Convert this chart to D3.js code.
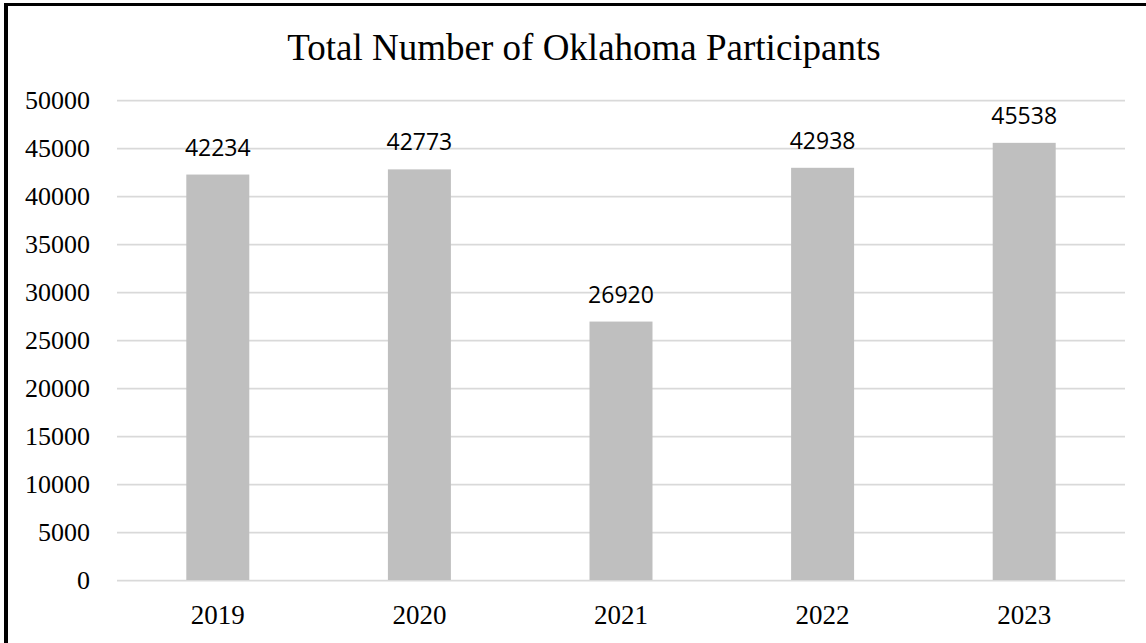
<!DOCTYPE html>
<html>
<head>
<meta charset="utf-8">
<script src="https://cdn.jsdelivr.net/npm/d3@7"></script>
<style>
  body { margin: 0; background: #fff; }
</style>
</head>
<body>
<script>
// data
const years = ["2019", "2020", "2021", "2022", "2023"];
const participants = [42234, 42773, 26920, 42938, 45538];
const yTicks = [0, 5000, 10000, 15000, 20000, 25000, 30000, 35000, 40000, 45000, 50000];

//SVG size
const w = 1146;
const h = 643;

//plot area
const plotLeft = 117;
const plotRight = 1125;
const plotTop = 100;
const plotBottom = 580;

const svg = d3.select("body").append("svg").attr("width", w).attr("height", h);

svg.append("rect").attr("width", w).attr("height", h).attr("fill", "#fff");

// frame (only top + left visible in the source)
svg.append("line").attr("x1", 4).attr("x2", w).attr("y1", 4.5).attr("y2", 4.5)
  .attr("stroke", "#000").attr("stroke-width", 3);
svg.append("line").attr("x1", 6).attr("x2", 6).attr("y1", 3).attr("y2", h)
  .attr("stroke", "#000").attr("stroke-width", 4);

// title
svg.append("text")
  .attr("x", (plotLeft + plotRight) / 2 - 37)
  .attr("y", 60)
  .attr("text-anchor", "middle")
  .attr("font-family", "'Liberation Serif', 'Times New Roman', serif")
  .attr("font-size", 37)
  .attr("fill", "#000")
  .text("Total Number of Oklahoma Participants");

const x = d3.scaleBand().domain(years).range([plotLeft, plotRight])
  .paddingInner(0.6875).paddingOuter(0.34375);
const y = d3.scaleLinear().domain([0, 50000]).range([plotBottom, plotTop]);

// gridlines + y labels
const yAxis = d3.axisLeft(y).tickValues(yTicks).tickFormat(d3.format("d"))
  .tickSize(-(plotRight - plotLeft)).tickPadding(27);
const gy = svg.append("g").attr("transform", `translate(${plotLeft},0)`).call(yAxis);
gy.select(".domain").remove();
gy.selectAll(".tick line").attr("stroke", "#d9d9d9").attr("stroke-width", 1.75);
gy.selectAll(".tick text")
  .attr("font-family", "'Liberation Serif', 'Times New Roman', serif")
  .attr("font-size", 26)
  .attr("fill", "#000");

// bars
svg.selectAll("rect.bar")
  .data(participants)
  .enter()
  .append("rect")
  .attr("class", "bar")
  .attr("x", (d, i) => x(years[i]))
  .attr("y", (d) => y(d))
  .attr("width", x.bandwidth())
  .attr("height", (d) => plotBottom - y(d))
  .attr("fill", "#bfbfbf");

// value labels
svg.selectAll("text.val")
  .data(participants)
  .enter()
  .append("text")
  .attr("class", "val")
  .attr("x", (d, i) => x(years[i]) + x.bandwidth() / 2)
  .attr("y", (d) => y(d) - 19)
  .attr("text-anchor", "middle")
  .attr("font-family", "'Open Sans', 'Noto Sans', sans-serif")
  .attr("font-size", 23)
  .attr("fill", "#000")
  .text((d) => d);

// x labels
const xAxis = d3.axisBottom(x).tickSize(0).tickPadding(25);
const gx = svg.append("g").attr("transform", `translate(0,${plotBottom})`).call(xAxis);
gx.select(".domain").remove();
gx.selectAll(".tick text")
  .attr("font-family", "'Liberation Serif', 'Times New Roman', serif")
  .attr("font-size", 27)
  .attr("fill", "#000");
</script>
</body>
</html>
